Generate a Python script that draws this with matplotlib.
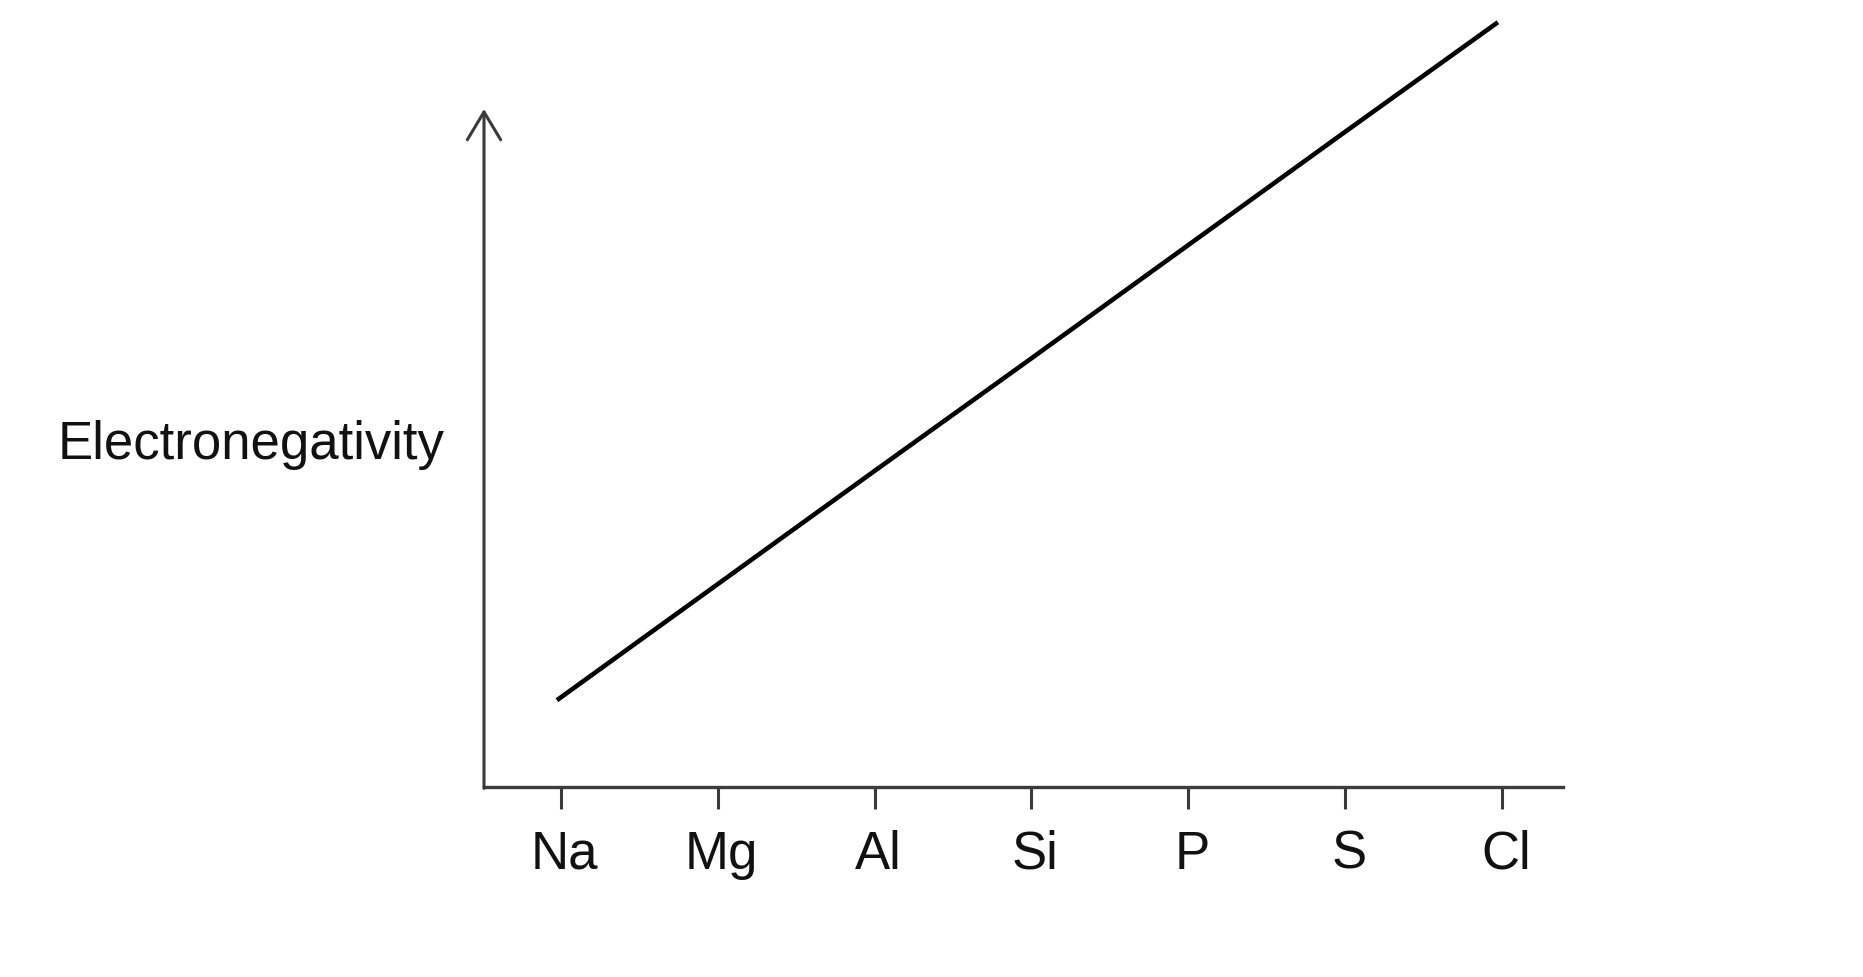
import matplotlib
matplotlib.use("Agg")
import matplotlib.pyplot as plt
from matplotlib.transforms import ScaledTranslation

elements = ["Na", "Mg", "Al", "Si", "P", "S", "Cl"]
electronegativity = [1.28, 2.95, 4.62, 6.28, 7.95, 9.62, 11.28]

W, H = 1863, 978
fig = plt.figure(figsize=(W / 100, H / 100), dpi=100)
plt.rcParams['font.family'] = ['Liberation Sans', 'DejaVu Sans']

left, right, bottom, top = 484, 1563, 788, 110
ax = fig.add_axes([left / W, 1 - bottom / H, (right - left) / W, (bottom - top) / H])

xs = list(range(len(elements)))
ax.plot([x - 0.025 for x in xs], electronegativity, color='black', lw=3.3,
        clip_on=False, solid_capstyle='butt')

ax.set_xlim(-0.49, 6.39)
ax.set_ylim(0, 10)
ax.set_xticks(xs)
ax.set_xticklabels(elements, fontsize=38)
ax.set_yticks([])
ax.tick_params(axis='x', length=16, width=2.2, color='#3a3a3a', pad=14, labelcolor='#111111')
shift = ScaledTranslation(4 / 100, 0, fig.dpi_scale_trans)
for lab in ax.get_xticklabels():
    lab.set_transform(lab.get_transform() + shift)

for s in ['top', 'right', 'left']:
    ax.spines[s].set_visible(False)
ax.spines['bottom'].set_linewidth(2.4)
ax.spines['bottom'].set_color('#3a3a3a')

ax.annotate('', xy=(0, 1), xytext=(0, -0.002), xycoords='axes fraction',
            arrowprops=dict(arrowstyle='->,head_length=1.0,head_width=0.6',
                            lw=2.2, color='#3a3a3a', mutation_scale=20,
                            shrinkA=0, shrinkB=0))

fig.text(445 / W, 1 - 445 / H, 'Electronegativity', ha='right', va='center',
         fontsize=38, color='#111111')

fig.savefig('out.png', dpi=100, facecolor='white')
